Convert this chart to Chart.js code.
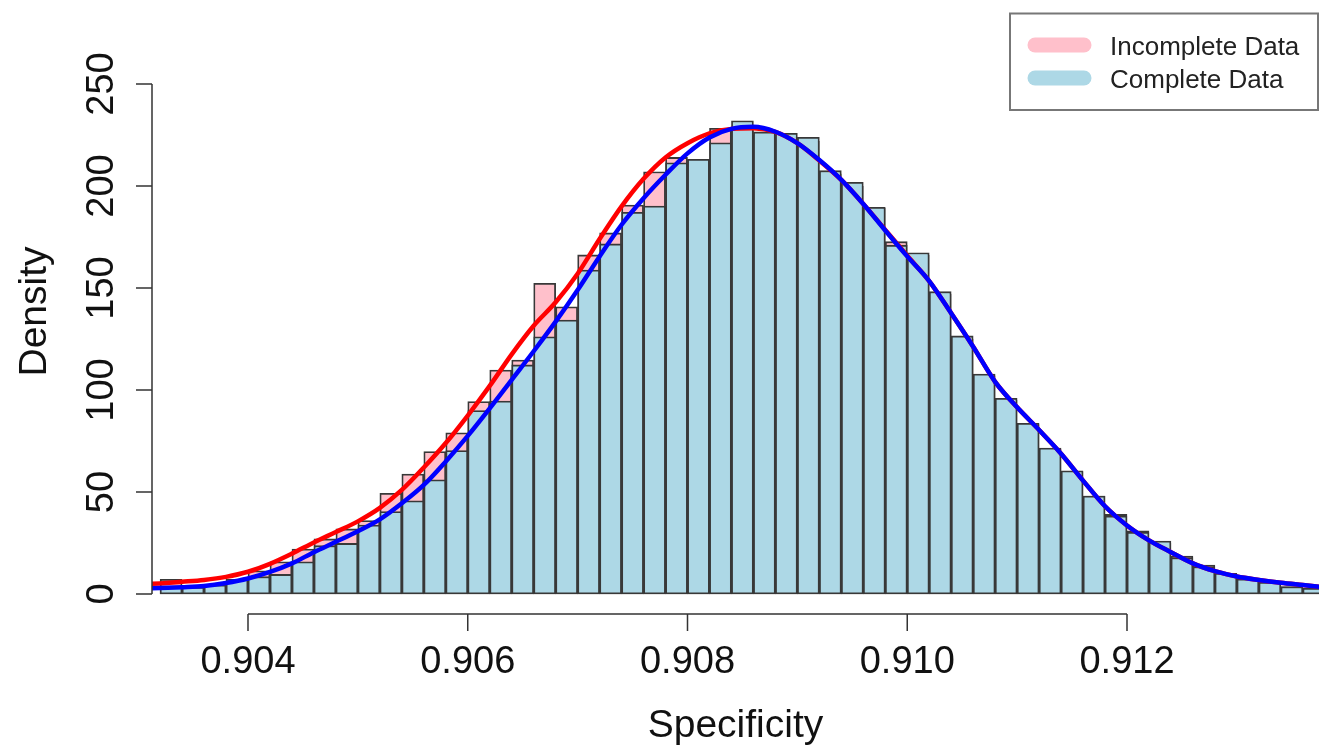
<!DOCTYPE html>
<html>
<head>
<meta charset="utf-8">
<title>Specificity density</title>
<script src="https://cdn.jsdelivr.net/npm/chart.js@4.4.1/dist/chart.umd.min.js"></script>
<style>
  html, body { margin: 0; padding: 0; background: #fff; }
  #wrap { width: 1319px; height: 749px; }
</style>
</head>
<body>
<div id="wrap"><canvas id="histChart" width="1319" height="749"></canvas></div>
<script>
// Histogram bins (centres, width 0.0002)
const binCenters = [
  0.9033, 0.9035, 0.9037, 0.9039, 0.9041, 0.9043, 0.9045, 0.9047, 0.9049, 0.9051,
  0.9053, 0.9055, 0.9057, 0.9059, 0.9061, 0.9063, 0.9065, 0.9067, 0.9069, 0.9071,
  0.9073, 0.9075, 0.9077, 0.9079, 0.9081, 0.9083, 0.9085, 0.9087, 0.9089, 0.9091,
  0.9093, 0.9095, 0.9097, 0.9099, 0.9101, 0.9103, 0.9105, 0.9107, 0.9109, 0.9111,
  0.9113, 0.9115, 0.9117, 0.9119, 0.9121, 0.9123, 0.9125, 0.9127, 0.9129, 0.9131,
  0.9133, 0.9135, 0.9137
];
const incompleteHist = [
  7.2, 3.3, 4.4, 7.2, 11.4, 15.8, 22, 27, 31.9, 36,
  49.4, 58.8, 69.8, 79, 94.3, 109.8, 114.7, 152.3, 140.8, 166.2,
  177, 190.7, 207, 214, 213, 228.3, 228, 225, 224, 222,
  206, 200, 189, 172.7, 166, 147, 125, 107, 95, 83,
  71, 60, 48, 39, 31, 25, 18.6, 14.2, 9.8, 7.2,
  5.5, 3.5, 2.7
];
const completeHist = [
  3.6, 3.3, 4.4, 7.2, 8.5, 9.6, 15.8, 23.7, 24.8, 33.8,
  40.4, 45.7, 56, 70.3, 89.9, 94.6, 112.3, 126.1, 134.3, 158.8,
  171.6, 187.1, 190.2, 211.4, 213.1, 221.2, 232, 226.5, 225.8, 223.9,
  207.5, 201.8, 189.6, 171, 167.3, 148.2, 126.5, 107.8, 95.9, 83.7,
  71.5, 60.4, 48, 38.2, 30.2, 26, 17.8, 13.4, 10.1, 7.4,
  5.7, 3.6, 2.8
];

// Density curves, read at bin edges
const curveX = [
  0.9030, 0.9032, 0.9034, 0.9036, 0.9038, 0.9040, 0.9042, 0.9044, 0.9046, 0.9048,
  0.9050, 0.9052, 0.9054, 0.9056, 0.9058, 0.9060, 0.9062, 0.9064, 0.9066, 0.9068,
  0.9070, 0.9072, 0.9074, 0.9076, 0.9078, 0.9080, 0.9082, 0.9084, 0.9086, 0.9088,
  0.9090, 0.9092, 0.9094, 0.9096, 0.9098, 0.9100, 0.9102, 0.9104, 0.9106, 0.9108,
  0.9110, 0.9112, 0.9114, 0.9116, 0.9118, 0.9120, 0.9122, 0.9124, 0.9126, 0.9128,
  0.9130, 0.9132, 0.9134, 0.9136, 0.9138
];
const incompleteDens = [
  4.6, 5.2, 6.0, 6.9, 8.4, 10.9, 14.8, 19.8, 25.3, 30.4,
  35.6, 42.2, 51, 62, 74, 87.5, 102, 117.5, 131.5, 143,
  157, 174, 190, 203.5, 214, 221, 225.8, 228, 228.3, 226.5,
  221, 212.5, 203, 191.2, 178.5, 165.8, 153.4, 137.6, 121.2, 104,
  91.5, 80.4, 68.8, 55.6, 43, 33.6, 26.3, 20.5, 15, 11.2,
  8.6, 6.9, 5.5, 4.4, 3.3
];
const completeDens = [
  2.6, 2.9, 3.3, 3.9, 5.4, 7.6, 10.8, 15, 20.5, 25.6,
  30.8, 36.6, 44.5, 53.5, 65, 77.5, 91, 105, 119, 133.5,
  149, 165.5, 181, 194, 205.5, 216, 223.8, 228, 229, 226.6,
  221, 212.7, 203, 191.2, 178.2, 165.5, 153.4, 137.6, 121.2, 104,
  91.5, 80.4, 68.8, 55.6, 43, 33.6, 26.3, 20.5, 15, 11.2,
  8.6, 6.9, 5.5, 4.4, 3.3
];

// Axis ticks
const xTicks = [0.904, 0.906, 0.908, 0.910, 0.912];
const xTickLabels = ["0.904", "0.906", "0.908", "0.910", "0.912"];
const yTicks = [0, 50, 100, 150, 200, 250];
const yTickLabels = ["0", "50", "100", "150", "200", "250"];

const seriesNames = ["Incomplete Data", "Complete Data"];

const FONT = "'Liberation Sans', Arial, Helvetica, sans-serif";
const AXIS_COLOR = "#333";

const toPoints = (xs, ys) => xs.map((x, i) => ({ x: x, y: ys[i] }));

// R-style detached axes, labels and legend
const rAxesPlugin = {
  id: "rAxes",
  afterDraw(chart) {
    const { ctx, chartArea, scales: { x, y } } = chart;
    ctx.save();
    ctx.strokeStyle = AXIS_COLOR;
    ctx.lineWidth = 1.5;
    ctx.fillStyle = "#111";

    // y axis
    const yx = chartArea.left;
    ctx.beginPath();
    ctx.moveTo(yx, y.getPixelForValue(yTicks[0]));
    ctx.lineTo(yx, y.getPixelForValue(yTicks[yTicks.length - 1]));
    yTicks.forEach(v => {
      const p = y.getPixelForValue(v);
      ctx.moveTo(yx, p);
      ctx.lineTo(yx - 16, p);
    });
    ctx.stroke();

    ctx.font = "38px " + FONT;
    ctx.textAlign = "center";
    ctx.textBaseline = "alphabetic";
    yTicks.forEach((v, i) => {
      ctx.save();
      ctx.translate(113, y.getPixelForValue(v));
      ctx.rotate(-Math.PI / 2);
      ctx.fillText(yTickLabels[i], 0, 0);
      ctx.restore();
    });

    // x axis, drawn below the plot
    const xy = chartArea.bottom;
    ctx.beginPath();
    ctx.moveTo(x.getPixelForValue(xTicks[0]), xy);
    ctx.lineTo(x.getPixelForValue(xTicks[xTicks.length - 1]), xy);
    xTicks.forEach(v => {
      const p = x.getPixelForValue(v);
      ctx.moveTo(p, xy);
      ctx.lineTo(p, xy + 17);
    });
    ctx.stroke();
    xTicks.forEach((v, i) => {
      ctx.fillText(xTickLabels[i], x.getPixelForValue(v), 672.5);
    });

    // axis titles
    ctx.font = "39px " + FONT;
    ctx.fillText("Specificity", (chartArea.left + chartArea.right) / 2, 736.5);
    ctx.save();
    ctx.translate(46, 311.5);
    ctx.rotate(-Math.PI / 2);
    ctx.fillText("Density", 0, 0);
    ctx.restore();

    // legend
    ctx.lineWidth = 2;
    ctx.strokeStyle = "#777";
    ctx.strokeRect(1010, 13.5, 308, 96.5);
    const swatch = ["#FFC0CB", "#ADD8E6"];
    const rows = [45, 78];
    ctx.lineCap = "round";
    ctx.lineWidth = 15;
    rows.forEach((ry, i) => {
      ctx.strokeStyle = swatch[i];
      ctx.beginPath();
      ctx.moveTo(1035, ry);
      ctx.lineTo(1084, ry);
      ctx.stroke();
    });
    ctx.font = "26px " + FONT;
    ctx.textAlign = "left";
    ctx.fillStyle = "#222";
    ctx.fillText(seriesNames[0], 1110, 55);
    ctx.fillText(seriesNames[1], 1110, 87.5);
    ctx.restore();
  }
};

const barStyle = {
  borderColor: "#383838",
  borderWidth: 1.8,
  borderSkipped: false,
  grouped: false,
  barPercentage: 1,
  categoryPercentage: 1
};

const config = {
  type: "bar",
  data: {
    datasets: [
      {
        type: "line",
        label: seriesNames[1] + " density",
        data: toPoints(curveX, completeDens),
        borderColor: "#0000FF",
        borderWidth: 4.5,
        pointRadius: 0,
        cubicInterpolationMode: "monotone",
        fill: false,
        order: 0
      },
      {
        type: "line",
        label: seriesNames[0] + " density",
        data: toPoints(curveX, incompleteDens),
        borderColor: "#FF0000",
        borderWidth: 4.5,
        pointRadius: 0,
        cubicInterpolationMode: "monotone",
        fill: false,
        order: 1
      },
      Object.assign({
        label: seriesNames[1],
        data: toPoints(binCenters, completeHist),
        backgroundColor: "#ADD8E6",
        order: 2
      }, barStyle),
      Object.assign({
        label: seriesNames[0],
        data: toPoints(binCenters, incompleteHist),
        backgroundColor: "#FFC0CB",
        order: 3
      }, barStyle)
    ]
  },
  options: {
    responsive: false,
    animation: false,
    layout: { padding: { left: 152, right: 0, top: 84, bottom: 135 } },
    plugins: {
      legend: { display: false },
      tooltip: { enabled: false }
    },
    scales: {
      x: {
        type: "linear",
        display: false,
        offset: false,
        min: 0.9031263,
        max: 0.9137474
      },
      y: {
        type: "linear",
        display: false,
        min: -9.8,
        max: 250
      }
    }
  },
  plugins: [rAxesPlugin]
};

window.onload = () => {
  const ctx = document.getElementById("histChart").getContext("2d");
  new Chart(ctx, config);
};
</script>
</body>
</html>
